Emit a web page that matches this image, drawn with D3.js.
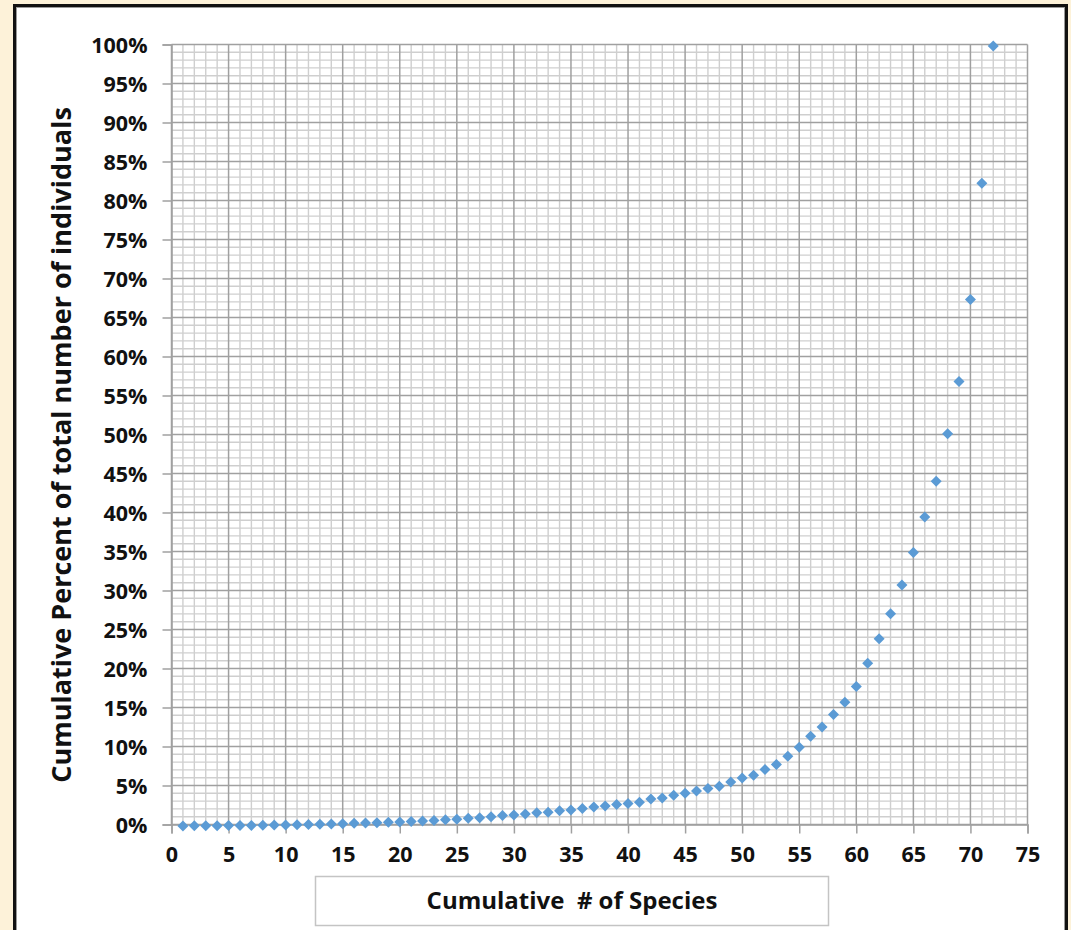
<!DOCTYPE html>
<html>
<head>
<meta charset="utf-8">
<script src="https://cdn.jsdelivr.net/npm/d3@7"></script>
<style>
  html, body { margin: 0; padding: 0; background: #fdf2d9; }
  svg { display: block; }
</style>
</head>
<body>
<svg id="chart" width="1071" height="930"></svg>
<script>
// ---- data ----
const species = [1,2,3,4,5,6,7,8,9,10,11,12,13,14,15,16,17,18,19,20,21,22,23,24,25,26,27,28,29,30,31,32,33,34,35,36,37,38,39,40,41,42,43,44,45,46,47,48,49,50,51,52,53,54,55,56,57,58,59,60,61,62,63,64,65,66,67,68,69,70,71,72];
const cumulativePercent = [0.01,0.02,0.03,0.04,0.05,0.06,0.08,0.10,0.12,0.14,0.17,0.20,0.23,0.26,0.30,0.34,0.38,0.42,0.47,0.52,0.57,0.65,0.72,0.80,
  0.85,1.00,1.05,1.20,1.35,1.40,1.55,1.70,1.75,1.95,2.05,2.25,2.45,2.55,2.75,2.90,3.05,3.45,3.60,3.95,4.20,4.50,4.80,5.10,5.65,6.15,
  6.50,7.25,7.90,8.95,10.1,11.5,12.7,14.3,15.85,17.9,20.85,24.0,27.2,30.9,35.05,39.6,44.2,50.3,57.0,67.5,82.4,100];
const xTicks = [0,5,10,15,20,25,30,35,40,45,50,55,60,65,70,75];
const yTicks = [0,5,10,15,20,25,30,35,40,45,50,55,60,65,70,75,80,85,90,95,100];
const xTitle = "Cumulative  # of Species";
const yTitle = "Cumulative Percent of total number of individuals";

// ---- layout ----
const svg = d3.select("#chart");
const font = "'Open Sans', 'Liberation Sans', sans-serif";

// outer frame
svg.append("rect").attr("x", 14.5).attr("y", 5.5).attr("width", 1052).attr("height", 940)
  .attr("fill", "#ffffff").attr("stroke", "#111").attr("stroke-width", 3);
svg.append("rect").attr("x", 16.5).attr("y", 7.5).attr("width", 1048).attr("height", 940)
  .attr("fill", "none").attr("stroke", "#9a9a9a").attr("stroke-width", 1);

const x = d3.scaleLinear().domain([0, 75]).range([171.5, 1027.5]);
const y = d3.scaleLinear().domain([0, 100]).range([824.5, 44.5]);

const grid = svg.append("g");
const minorX = d3.range(0, 76, 1).filter(v => v % 5 !== 0);
const minorY = d3.range(0, 101, 1).filter(v => v % 5 !== 0);

grid.selectAll("line.mx").data(minorX).join("line")
  .attr("x1", d => x(d)).attr("x2", d => x(d)).attr("y1", y(0)).attr("y2", y(100))
  .attr("stroke", "#cfcfcf").attr("stroke-width", 1.4);
grid.selectAll("line.my").data(minorY).join("line")
  .attr("y1", d => y(d)).attr("y2", d => y(d)).attr("x1", x(0)).attr("x2", x(75))
  .attr("stroke", "#cfcfcf").attr("stroke-width", 1.4);
grid.selectAll("line.Mx").data(xTicks).join("line")
  .attr("x1", d => x(d)).attr("x2", d => x(d)).attr("y1", y(0)).attr("y2", y(100))
  .attr("stroke", "#a0a0a0").attr("stroke-width", 1.5);
grid.selectAll("line.My").data(yTicks).join("line")
  .attr("y1", d => y(d)).attr("y2", d => y(d)).attr("x1", x(0)).attr("x2", x(75))
  .attr("stroke", "#a0a0a0").attr("stroke-width", 1.5);

// axes
const yAxis = svg.append("g").attr("transform", `translate(${x(0)},0)`)
  .call(d3.axisLeft(y).tickValues(yTicks).tickFormat(d => d + "%").tickSize(9).tickPadding(15));
const xAxis = svg.append("g").attr("transform", `translate(0,${y(0)})`)
  .call(d3.axisBottom(x).tickValues(xTicks).tickFormat(d3.format("d")).tickSize(9).tickPadding(13));
[yAxis, xAxis].forEach(g => {
  g.select(".domain").attr("stroke", "#a0a0a0").attr("stroke-width", 1.5);
  g.selectAll(".tick line").attr("stroke", "#a0a0a0").attr("stroke-width", 1.5);
  g.selectAll(".tick text").attr("font-family", font).attr("font-weight", 700)
    .attr("font-size", 21.5).attr("fill", "#111");
});
yAxis.selectAll(".tick text").attr("dy", "0.36em");

// y title
svg.append("text")
  .attr("transform", `translate(71,445) rotate(-90)`)
  .attr("text-anchor", "middle")
  .attr("font-family", font).attr("font-weight", 700).attr("font-size", 27)
  .attr("fill", "#111").text(yTitle);

// x title box
svg.append("rect").attr("x", 315.5).attr("y", 876.5).attr("width", 513).attr("height", 49)
  .attr("fill", "#fff").attr("stroke", "#c4c4c4").attr("stroke-width", 1.5);
svg.append("text").attr("x", 572).attr("y", 909).attr("text-anchor", "middle")
  .attr("font-family", font).attr("font-weight", 700).attr("font-size", 24)
  .attr("fill", "#111").attr("xml:space", "preserve").style("white-space", "pre").text(xTitle);

// points (diamonds)
const pts = species.map((s, i) => ({ s, v: cumulativePercent[i] }));
const diamond = "M0,-5.5L5.5,0L0,5.5L-5.5,0Z";
svg.append("g").selectAll("path").data(pts).join("path")
  .attr("d", diamond)
  .attr("transform", d => `translate(${x(d.s)},${y(d.v) + 1.5})`)
  .attr("fill", "#5b9bd5");
</script>
</body>
</html>
